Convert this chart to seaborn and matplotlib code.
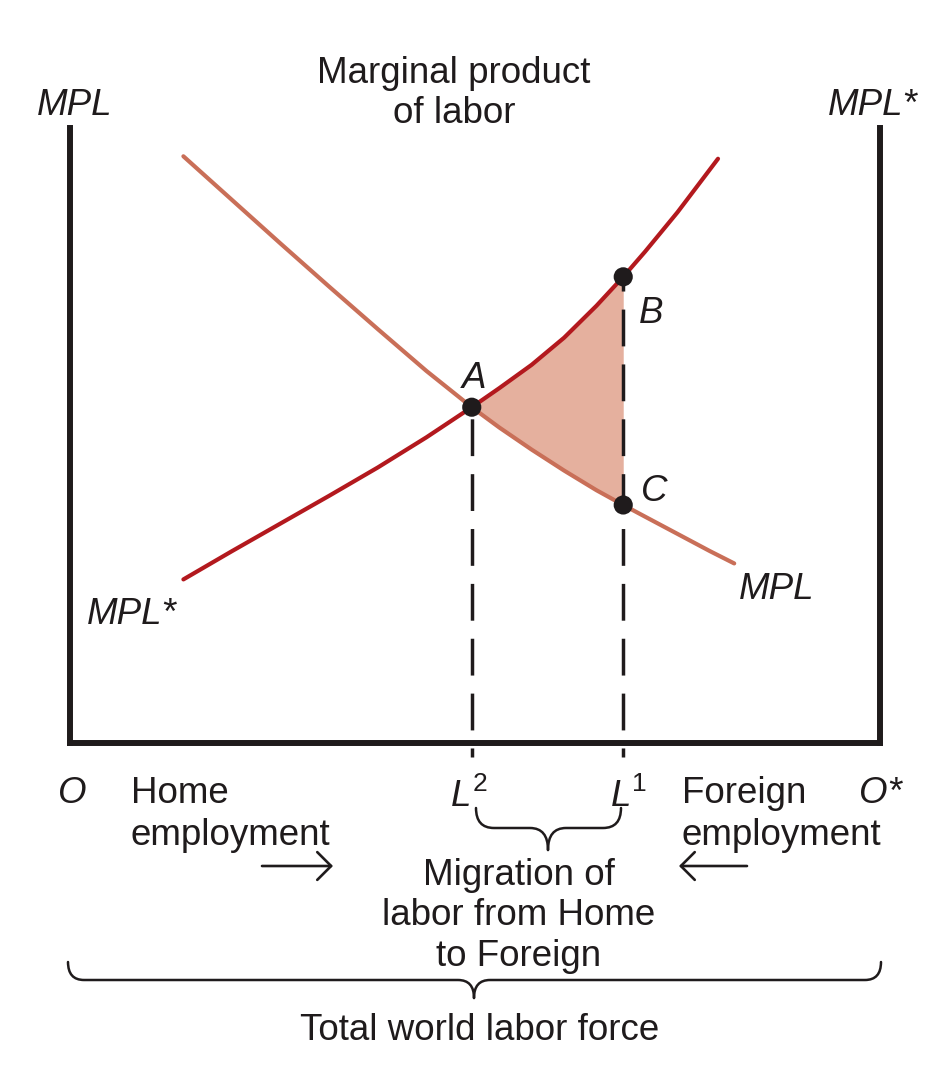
import numpy as np
import pandas as pd
import matplotlib
matplotlib.use("Agg")
import matplotlib.pyplot as plt
from matplotlib.path import Path
from matplotlib.patches import PathPatch
import seaborn as sns

# labor allocation (0 = Home origin O, 100 = Foreign origin O*), MPL in index units
L2 = 49.6
L1 = 68.3
x_mpl = [14, 20, 26, 32, 38, 44, 49.6, 53, 57, 61, 65, 68.3, 71, 75, 79, 82]
mpl = [95.4, 88.3, 81.2, 74.2, 67.3, 60.5, 54.6, 51.3, 47.7, 44.3, 41.1, 38.7, 36.8, 34.0, 31.2, 29.2]
x_mpls = [14, 20, 26, 32, 38, 44, 49.6, 53, 57, 61, 65, 68.3, 71, 75, 80]
mpl_star = [26.6, 31.2, 35.7, 40.2, 44.8, 49.7, 54.6, 57.7, 61.5, 65.9, 71.1, 75.8, 79.9, 86.3, 95.0]

home = pd.DataFrame({"labor": x_mpl, "mpl": mpl})
foreign = pd.DataFrame({"labor": x_mpls, "mpl_star": mpl_star})
both = home.merge(foreign, on="labor")
gain = both[(both["labor"] >= L2) & (both["labor"] <= L1)]

A = (L2, home.loc[home["labor"] == L2, "mpl"].iloc[0])
B = (L1, foreign.loc[foreign["labor"] == L1, "mpl_star"].iloc[0])
C = (L1, home.loc[home["labor"] == L1, "mpl"].iloc[0])
points = pd.DataFrame({"labor": [A[0], B[0], C[0]], "value": [A[1], B[1], C[1]]})

sns.set_theme(style="white")
plt.rcParams["font.family"] = ["Liberation Sans", "DejaVu Sans"]

INK = "#1f1b1c"
MPL_C = "#c96f58"
MPLS_C = "#b3191e"
FILL_C = "#e5b09e"
FS = 26.5

fig = plt.figure(figsize=(9.49, 10.69), dpi=100)
ax = fig.add_axes([70 / 949, (1069 - 743) / 1069, 810 / 949, 615 / 1069])
ax.set_xlim(0, 100)
ax.set_ylim(0, 100)

ax.fill_between(gain["labor"], gain["mpl"], gain["mpl_star"], color=FILL_C, lw=0, zorder=1)
sns.lineplot(data=home, x="labor", y="mpl", color=MPL_C, lw=3, ax=ax, zorder=3)
sns.lineplot(data=foreign, x="labor", y="mpl_star", color=MPLS_C, lw=3, ax=ax, zorder=4)

# dashed drop lines, drawn upward from just below the axis
for xv, yv in [(L2, A[1]), (L1, B[1])]:
    ax.plot([xv, xv], [-2.3, yv], color=INK, lw=2.5,
            linestyle=(8.0, (10.6, 5.2)), clip_on=False, zorder=2)

sns.scatterplot(data=points, x="labor", y="value", color=INK, s=190,
                edgecolor="none", ax=ax, zorder=6, clip_on=False)

for side in ["left", "right", "bottom"]:
    ax.spines[side].set_linewidth(4.3)
    ax.spines[side].set_color(INK)
ax.spines["top"].set_visible(False)
ax.set_xticks([])
ax.set_yticks([])
ax.set_xlabel("")
ax.set_ylabel("")
ax.patch.set_alpha(0)

# overlay in pixel units for labels and braces
ov = fig.add_axes([0, 0, 1, 1])
ov.set_xlim(0, 949)
ov.set_ylim(1069, 0)
ov.axis("off")

def txt(x, y, s, ha="left", style="normal", size=FS):
    ov.text(x, y, s, ha=ha, va="baseline", fontsize=size, style=style, color=INK)

txt(454, 83, "Marginal product", ha="center")
txt(454, 123, "of labor", ha="center")
txt(37, 115, "MPL", style="italic")
txt(828, 115, "MPL*", style="italic")
txt(474, 388, "A", ha="center", style="italic")
txt(651, 323, "B", ha="center", style="italic")
txt(654, 501, "C", ha="center", style="italic")
txt(87, 624, "MPL*", style="italic")
txt(739, 599, "MPL", style="italic")
txt(72, 803, "O", ha="center", style="italic")
txt(859, 803, "O*", style="italic")
txt(131, 803, "Home")
txt(131, 845, "employment")
txt(682, 803, "Foreign")
txt(682, 845, "employment")
txt(451, 806, "L", style="italic")
txt(473, 791, "2", size=19)
txt(611, 806, "L", style="italic")
txt(632, 791, "1", size=19)
txt(519, 885, "Migration of", ha="center")
txt(519, 925, "labor from Home", ha="center")
txt(519, 966, "to Foreign", ha="center")
txt(480, 1040, "Total world labor force", ha="center")

arrow = dict(arrowstyle="->,head_length=0.5,head_width=0.5", lw=1.9, color=INK,
             shrinkA=0, shrinkB=0, mutation_scale=20)
ov.annotate("", xy=(333, 866), xytext=(262, 866), arrowprops=arrow)
ov.annotate("", xy=(679, 866), xytext=(747, 866), arrowprops=arrow)

def brace(x0, x1, xm, top, mid, bottom, r):
    verts = [(x0, top), (x0, mid), (x0 + r, mid), (xm - r, mid), (xm, mid), (xm, bottom),
             (xm, bottom), (xm, mid), (xm + r, mid), (x1 - r, mid), (x1, mid), (x1, top)]
    codes = [Path.MOVETO, Path.CURVE3, Path.CURVE3, Path.LINETO, Path.CURVE3, Path.CURVE3,
             Path.MOVETO, Path.CURVE3, Path.CURVE3, Path.LINETO, Path.CURVE3, Path.CURVE3]
    ov.add_patch(PathPatch(Path(verts, codes), fill=False, lw=1.8, color=INK, capstyle="round"))

brace(476, 621, 548, 808, 828, 850, 18)
brace(68, 881, 474, 962, 980, 998, 16)

plt.savefig("out.png", dpi=100)
